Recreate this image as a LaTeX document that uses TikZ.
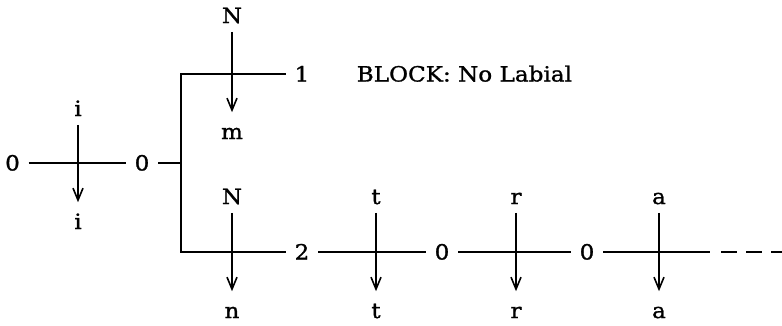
\documentclass[tikz,border=0pt]{standalone}
\usepackage{fontspec}
\setmainfont{DejaVu Serif}[FakeStretch=1.1, FakeBold=1.2]
\usetikzlibrary{arrows.meta}

\begin{document}
\begin{tikzpicture}[x=1pt, y=-1pt, font=\fontsize{21}{24}\selectfont, line width=1.6pt,
  lbl/.style={inner xsep=1pt, inner ysep=4pt, text height=15pt, text depth=0pt, anchor=base},
  st/.style={inner xsep=8pt, inner ysep=2pt, text height=15pt, text depth=0pt},
  arr/.style={-{Straight Barb[length=12pt, width=10pt]}, shorten <=4pt, shorten >=7pt}]
\useasboundingbox (0,0) rectangle (782,325);
% start: 0 --i-- 0
\node[st] (z0) at (12.5,163) {0};
\node[st] (z1) at (142,163) {0};
\coordinate (br) at (181,163);
\draw (z0) -- (z1);
\draw (z1) -- (br);
\node[lbl] (iup) at (78,116) {i};
\node[lbl] (idn) at (78,229) {i};
\draw[arr] (iup) -- (idn);
% branch 1 (blocked)
\node[st] (one) at (302,74) {1};
\node[anchor=west, inner sep=0pt, text height=15pt, text depth=0pt] (block) at (356,74) {BLOCK: No Labial};
\node[lbl] (nup) at (232,23) {N};
\node[lbl] (mdn) at (232,139) {m};
\draw[arr] (nup) -- (mdn);
% branch 2
\node[st] (two) at (302,252) {2};
\node[st] (z2) at (442,252) {0};
\node[st] (z3) at (587,252) {0};
\coordinate (tail) at (710,252);
\coordinate (end) at (782,252);
\draw (one) -| (br) |- (two);
\foreach \p/\q in {two/z2, z2/z3, z3/tail} \draw (\p) -- (\q);
\draw[dash pattern=on 16pt off 9pt, shorten <=11pt] (tail) -- (end);
\foreach \x/\s/\n in {232/N/n, 376/t/t, 516/r/r, 659/a/a} {
  \node[lbl] (u\n) at (\x,204) {\s};
  \node[lbl] (d\n) at (\x,318) {\n};
  \draw[arr] (u\n) -- (d\n);
}
\end{tikzpicture}
\end{document}
